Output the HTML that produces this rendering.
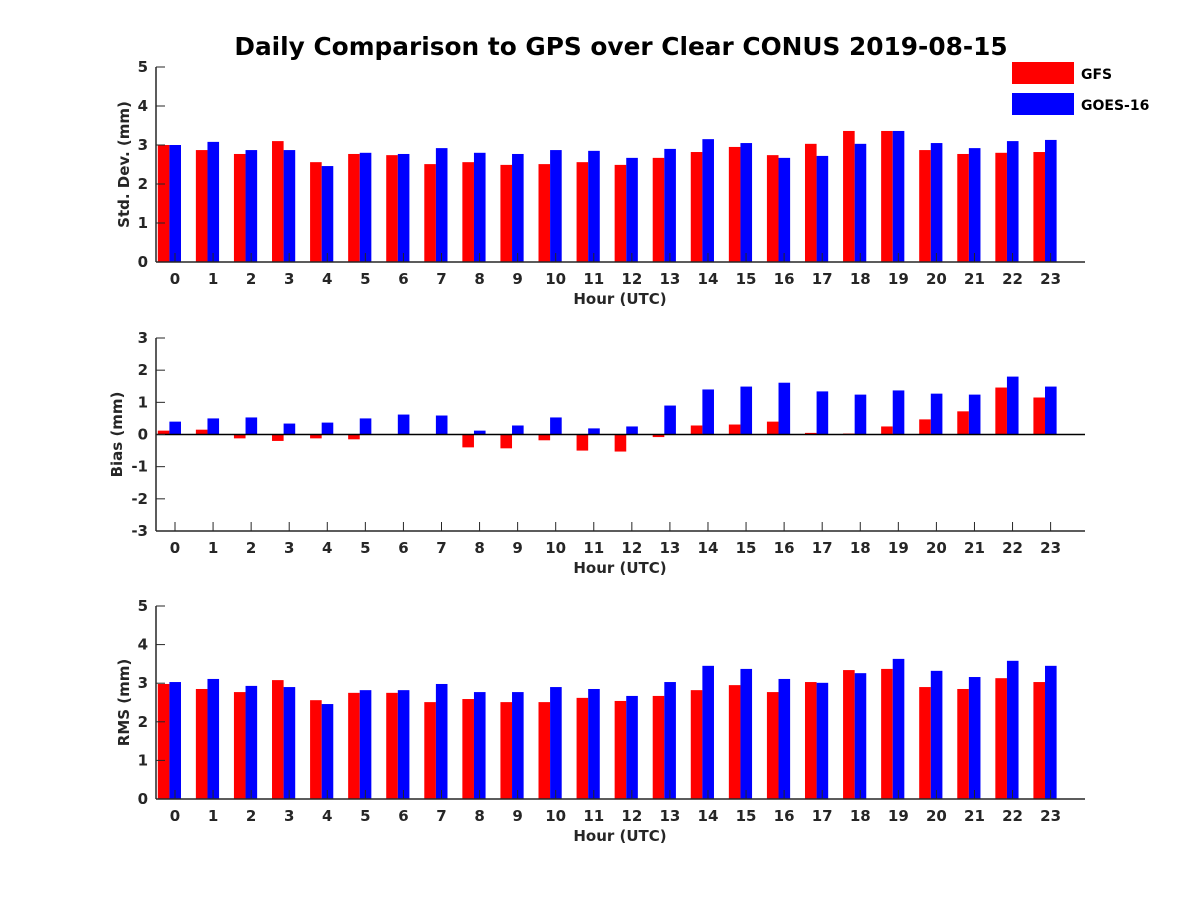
<!DOCTYPE html>
<html><head><meta charset="utf-8"><style>
html,body{margin:0;padding:0;background:#fff;}
svg text{font-family:"DejaVu Sans","Liberation Sans",sans-serif;font-weight:bold;fill:#262626;}
</style></head><body>
<svg id="chart" width="1200" height="900" xmlns="http://www.w3.org/2000/svg">
<rect width="1200" height="900" fill="#fff"/>
<text x="621" y="55" font-size="24.8" text-anchor="middle" style="fill:#000">Daily Comparison to GPS over Clear CONUS 2019-08-15</text>
<g>
<rect x="1012" y="62" width="62" height="22" fill="#ff0000"/>
<text x="1081" y="79" font-size="14" style="fill:#000">GFS</text>
<rect x="1012" y="93" width="62" height="22" fill="#0000ff"/>
<text x="1081" y="110" font-size="14" style="fill:#000">GOES-16</text>
</g>
</svg>
<script>
const hours = [0,1,2,3,4,5,6,7,8,9,10,11,12,13,14,15,16,17,18,19,20,21,22,23];
const stdGFS = [3.0,2.87,2.77,3.1,2.56,2.77,2.74,2.51,2.56,2.49,2.51,2.56,2.49,2.67,2.82,2.95,2.74,3.03,3.36,3.36,2.87,2.77,2.8,2.82];
const stdGOES = [3.0,3.08,2.87,2.87,2.46,2.8,2.77,2.92,2.8,2.77,2.87,2.85,2.67,2.9,3.15,3.05,2.67,2.72,3.03,3.36,3.05,2.92,3.1,3.13];
const biasGFS = [0.12,0.15,-0.12,-0.2,-0.12,-0.15,0.0,0.0,-0.4,-0.43,-0.18,-0.5,-0.53,-0.08,0.28,0.31,0.4,0.05,0.03,0.25,0.47,0.72,1.46,1.15];
const biasGOES = [0.4,0.5,0.53,0.34,0.37,0.5,0.62,0.59,0.12,0.28,0.53,0.19,0.25,0.9,1.4,1.49,1.61,1.34,1.24,1.37,1.27,1.24,1.8,1.49];
const rmsGFS = [2.98,2.85,2.77,3.08,2.56,2.75,2.75,2.51,2.59,2.51,2.51,2.62,2.54,2.67,2.82,2.95,2.77,3.03,3.34,3.37,2.9,2.85,3.13,3.03];
const rmsGOES = [3.03,3.11,2.93,2.9,2.46,2.82,2.82,2.98,2.77,2.77,2.9,2.85,2.67,3.03,3.45,3.37,3.11,3.01,3.26,3.63,3.32,3.16,3.58,3.45];
const stdTicks = [0,1,2,3,4,5];
const biasTicks = [-3,-2,-1,0,1,2,3];
const rmsTicks = [0,1,2,3,4,5];

const NS = "http://www.w3.org/2000/svg";
const svg = document.getElementById('chart');
function mk(tag, attrs, parent){const e=document.createElementNS(NS,tag);for(const k in attrs)e.setAttribute(k,attrs[k]);(parent||svg).appendChild(e);return e;}
const xL=156, xR=1085;
function xs(h){return 175 + h*38.07;}

function panel(name, yTop, yBot, vmin, vmax, ticks, red, blue, ylabel, ylx, zeroLine){
  const g = mk('g',{});
  
  
  const ys = v => yBot - (v - vmin)/(vmax - vmin)*(yBot - yTop);
  const bw = 11.6;
  hours.forEach((h,i)=>{
    const y0 = ys(Math.max(vmin,0)), yr = ys(red[i]), yb = ys(blue[i]);
    let rx = xs(h)-5.6-bw, rw = bw;
    if(rx < xL){ rw -= (xL-rx); rx = xL; }
    const r = mk('rect',{x:rx,y:Math.min(y0,yr),width:rw,height:Math.abs(y0-yr),fill:'#ff0000'},g);
    
    
    const b = mk('rect',{x:xs(h)-5.6,y:Math.min(y0,yb),width:bw,height:Math.abs(y0-yb),fill:'#0000ff'},g);
    
    
  });
  if(zeroLine){ mk('line',{x1:xL,x2:xR,y1:ys(0),y2:ys(0),stroke:'#000','stroke-width':1.5},g); }
  mk('line',{x1:xL,x2:xL,y1:yTop,y2:yBot,stroke:'#262626','stroke-width':1.5},g);
  mk('line',{x1:xL,x2:xR,y1:yBot,y2:yBot,stroke:'#262626','stroke-width':1.5},g);
  ticks.forEach(t=>{
    const y=ys(t);
    mk('line',{x1:xL,x2:xL+9,y1:y,y2:y,stroke:'#262626','stroke-width':1},g);
    const tx=mk('text',{x:xL-8,y:y+5,'font-size':15,'text-anchor':'end'},g); tx.textContent=t;
    
    
  });
  hours.forEach(h=>{
    mk('line',{x1:xs(h),x2:xs(h),y1:yBot,y2:yBot-9,stroke:'#262626','stroke-width':1},g);
    const tx=mk('text',{x:xs(h),y:yBot+22,'font-size':15,'text-anchor':'middle'},g); tx.textContent=h;
    
    
  });
  const xl=mk('text',{x:620,y:yBot+42,'font-size':15,'text-anchor':'middle'},g); xl.textContent='Hour (UTC)';
  
  
  const cy=(yTop+yBot)/2;
  const yl=mk('text',{x:0,y:0,'font-size':15,'text-anchor':'middle',transform:'translate('+ylx+','+cy+') rotate(-90)'},g); yl.textContent=ylabel;
  
  
}
panel('std',67,262,0,5,stdTicks,stdGFS,stdGOES,'Std. Dev. (mm)',129,false);
panel('bias',338,531,-3,3,biasTicks,biasGFS,biasGOES,'Bias (mm)',122,true);
panel('rms',606,799,0,5,rmsTicks,rmsGFS,rmsGOES,'RMS (mm)',129,false);
</script>
</body></html>
